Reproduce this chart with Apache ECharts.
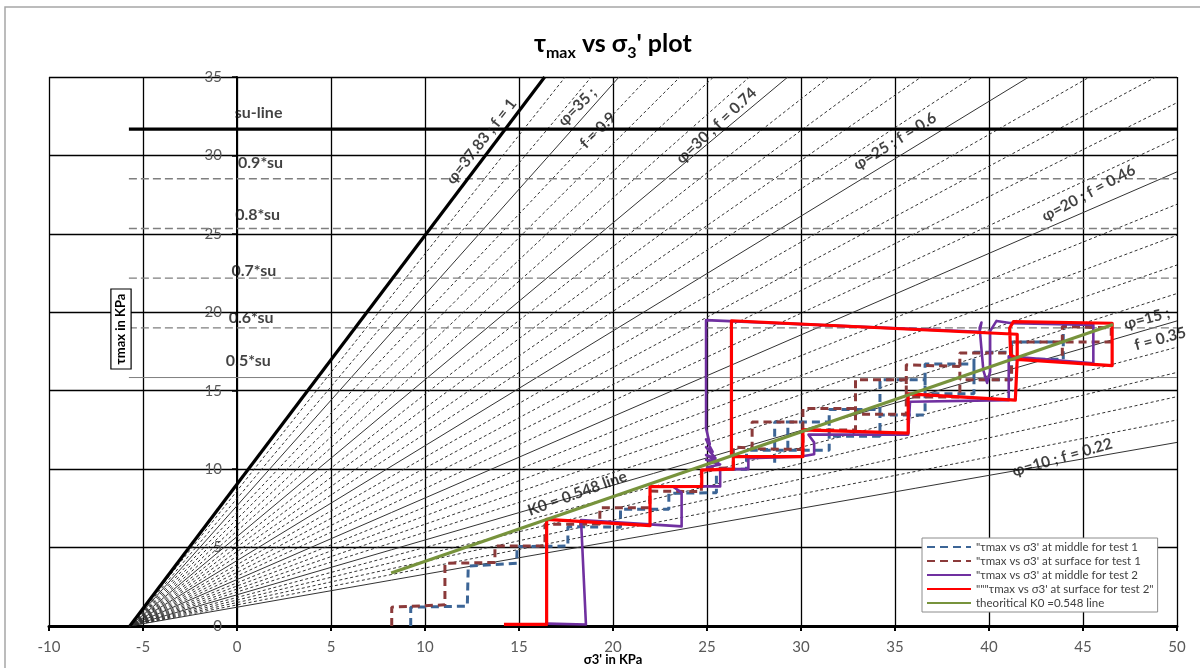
<!DOCTYPE html>
<html>
<head>
<meta charset="utf-8">
<script src="https://cdn.jsdelivr.net/npm/echarts@6/dist/echarts.min.js"></script>
<style>
  html, body { margin: 0; padding: 0; background: #fff; }
  #chart { width: 1200px; height: 668px; }
</style>
</head>
<body>
<div id="chart"></div>
<script>
// ---- axis ticks ----
const xTicks = { min: -10, max: 50, step: 5 };
const yTicks = { min: 0, max: 35, step: 5 };

// ---- undrained strength reference lines ----
const su = 31.68;
const suStart = -5.75;
const suFactors = [0.9, 0.8, 0.7, 0.6, 0.5];
const suLabels = [
  { text: 'su-line', x: 1.15, y: 32.7 },
  { text: '0.9*su', x: 1.25, y: 29.5 },
  { text: '0.8*su', x: 1.1, y: 26.2 },
  { text: '0.7*su', x: 0.9, y: 22.65 },
  { text: '0.6*su', x: 0.75, y: 19.65 },
  { text: '0.5*su', x: 0.6, y: 16.9 }
];

// ---- failure-envelope fan: all lines pass through (fanOrigin, 0) ----
const fanOrigin = -5.7;
const phiMax = 37.83;
const phiFan = [10, 11, 12, 13, 14, 15, 16, 17, 18, 19, 20, 21, 22, 23, 24, 25,
                26, 27, 28, 29, 30, 31, 32, 33, 34, 35, 36, 37];
const phiLabels = [
  { text: 'φ=37.83 ; f = 1', x: 13.0, y: 30.9, rot: 52 },
  { text: 'φ=35 ;', x: 18.1, y: 33.1, rot: 45 },
  { text: 'f = 0.9', x: 19.2, y: 31.6, rot: 45 },
  { text: 'φ=30 ; f = 0.74', x: 25.5, y: 31.9, rot: 43 },
  { text: 'φ=25 ; f = 0.6', x: 35.0, y: 30.9, rot: 32 },
  { text: 'φ=20 ; f = 0.46', x: 45.3, y: 27.6, rot: 28 },
  { text: 'φ=15 ;', x: 48.4, y: 19.6, rot: 15 },
  { text: 'f = 0.35', x: 49.1, y: 18.3, rot: 15 },
  { text: 'φ=10 ; f = 0.22', x: 43.9, y: 10.75, rot: 16 },
  { text: 'K0 = 0.548 line', x: 18.1, y: 8.45, rot: 20 }
];

// ---- measured paths (σ3', τmax) in kPa; null separates drawn pieces ----
const middleTest1 = [
  [9.24, 0], [9.24, 1.2], [12.25, 1.27], [12.3, 3.82], [14.88, 4.0], [14.9, 5.06],
  [17.6, 5.1], [17.6, 6.33], [20.4, 6.3], [20.4, 7.45], [22.97, 7.45], [22.97, 8.46],
  [25.5, 8.5], [25.5, 10.0], [27.1, 10.0], [27.1, 11.26], [28.6, 11.26], null,
  [28.6, 10.4], [28.6, 13.0], [31.5, 13.0], [31.5, 11.2], [27.3, 11.2], null,
  [29.3, 11.3], [29.3, 13.0], null,
  [31.5, 12.1], [31.5, 13.8], [34.2, 13.8], [34.2, 12.1], [31.5, 12.1], null,
  [34.2, 13.45], [34.2, 15.7], [36.6, 15.7], [36.6, 13.45], [34.2, 13.45], null,
  [36.6, 14.8], [36.6, 16.7], [39.2, 16.7], [39.2, 14.8], [36.6, 14.8], null,
  [39.2, 15.7], [39.2, 17.45], [41.2, 17.45], [41.2, 15.7], [39.2, 15.7], null,
  [41.2, 17.0], [41.2, 18.1], [43.95, 18.1], [43.95, 17.0], [41.2, 17.0], null,
  [43.95, 18.1], [43.95, 19.1]
];
const surfaceTest1 = [
  [8.23, 0], [8.23, 1.2], [11.06, 1.35], [11.06, 4.0], [13.72, 4.05], [13.72, 5.1],
  [16.38, 5.1], [16.38, 6.48], [19.3, 6.5], [19.3, 7.54], [21.96, 7.54], [21.96, 8.6],
  [24.7, 8.57], [24.7, 10.0], [26.4, 10.1], [26.4, 11.4], [27.4, 11.35], [27.4, 13.0],
  [30.1, 13.0], [30.1, 11.25], [27.4, 11.3], null,
  [30.1, 12.5], [30.1, 13.87], [32.9, 13.87], [32.9, 12.5], [30.1, 12.5], null,
  [32.9, 13.5], [32.9, 15.7], [35.6, 15.7], [35.6, 13.5], [32.9, 13.5], null,
  [35.6, 14.6], [35.6, 16.65], [38.45, 16.55], [38.45, 14.6], [35.6, 14.6], null,
  [38.45, 15.7], [38.45, 17.4], [41.2, 17.4], [41.2, 15.7], [38.45, 15.7], null,
  [41.2, 17.4], [41.2, 18.1], [46.5, 18.1], [46.5, 19.0], [43.9, 19.1], [43.9, 17.0]
];
const middleTest2 = [
  [16.5, 0.15], [18.56, 0.1], [18.3, 6.75], [23.65, 6.35], [23.65, 8.5], [23.2, 8.88],
  [24.8, 8.9], [25.7, 8.9], [25.7, 10.0], [27.2, 10.0], [27.2, 10.7], [30.0, 10.8],
  [30.7, 10.95], [30.7, 11.7], [30.4, 12.2], [35.7, 12.2], [35.8, 14.3], [41.05, 14.4],
  [41.05, 17.2], [45.55, 16.75], [45.55, 19.2], [41.2, 19.3], [40.4, 19.45], [40.06, 18.8],
  [40.06, 16.2], [39.9, 15.5], [39.7, 16.3], [39.5, 19.0], [39.6, 19.35], [39.5, 18.75],
  [24.95, 19.5], [24.95, 12.6], [25.15, 11.6], [24.95, 11.9], [25.3, 11.1], [24.95, 11.4],
  [25.45, 10.7], [24.95, 10.9], [25.6, 10.45], [24.95, 10.6], [25.7, 10.3], [24.95, 10.1]
];
const surfaceTest2 = [
  [14.2, 0.1], [16.47, 0.1], [16.47, 6.8], [21.97, 6.4], [21.97, 8.88], [24.72, 8.9],
  [24.72, 9.94], [26.4, 10.0], [26.4, 10.8], [30.1, 10.8], [30.1, 12.5], [35.7, 12.3],
  [35.7, 14.8], [41.4, 14.4], [41.5, 17.0], [46.55, 16.6], [46.55, 19.3], [41.3, 19.4],
  [41.1, 19.0], [41.15, 17.3], [41.5, 17.0], [41.5, 18.6], [26.3, 19.46], [26.3, 10.8]
];
const k0Line = [[8.2, 3.38], [46.6, 19.22]];

const seriesNames = [
  '"τmax vs σ3\' at middle for test 1',
  '"τmax vs σ3\' at surface for test 1',
  '"τmax vs σ3\' at middle for test 2',
  '"""τmax vs σ3\' at surface for test 2"',
  'theoritical K0 =0.548 line'
];

const FONT = 'Lato, "Open Sans", "DejaVu Sans", sans-serif';
const GRID = { left: 49, right: 23, top: 77, bottom: 42 };
const CHART_W = 1200;
// horizontal pixel distance from the left plot edge to σ3' = 0
const yAxisShift = (0 - xTicks.min) / (xTicks.max - xTicks.min) * (CHART_W - GRID.left - GRID.right);

function envelopeSlope(phiDeg) {
  const s = Math.sin(phiDeg * Math.PI / 180);
  return s / (1 - s);
}
// line from the fan origin up to the plot boundary
function fanLine(phiDeg) {
  const k = envelopeSlope(phiDeg);
  let xEnd = fanOrigin + yTicks.max / k;
  if (xEnd > xTicks.max) xEnd = xTicks.max;
  return [[fanOrigin, 0], [xEnd, k * (xEnd - fanOrigin)]];
}
const pts = function (arr) { return arr.map(function (p) { return p === null ? [null, null] : p; }); };

const series = [];

// fan of friction-angle lines
phiFan.forEach(function (phi) {
  const major = phi % 5 === 0;
  series.push({
    type: 'line', silent: true, symbol: 'none', z: 2,
    data: fanLine(phi),
    lineStyle: major
      ? { color: '#333', width: 1, type: 'solid' }
      : { color: '#333', width: 1, type: [3, 2.5] }
  });
});
series.push({
  type: 'line', silent: true, symbol: 'none', z: 3,
  data: fanLine(phiMax),
  lineStyle: { color: '#000', width: 3.2 }
});

// su reference lines
series.push({
  type: 'line', silent: true, symbol: 'none', z: 3,
  data: [[suStart, su], [xTicks.max, su]],
  lineStyle: { color: '#000', width: 3.2 }
});
suFactors.forEach(function (f) {
  series.push({
    type: 'line', silent: true, symbol: 'none', z: 2,
    data: [[suStart, f * su], [xTicks.max, f * su]],
    lineStyle: f === 0.5
      ? { color: '#7f7f7f', width: 1, type: 'solid' }
      : { color: '#7f7f7f', width: 1.4, type: [8, 4] }
  });
});

// measured paths
series.push({
  name: seriesNames[0], type: 'line', symbol: 'none', z: 6, data: pts(middleTest1),
  connectNulls: false,
  lineStyle: { color: '#3C6596', width: 3, type: [8, 5] }, itemStyle: { color: '#3C6596' }
});
series.push({
  name: seriesNames[1], type: 'line', symbol: 'none', z: 6, data: pts(surfaceTest1),
  connectNulls: false,
  lineStyle: { color: '#8B3A3A', width: 3, type: [8, 5] }, itemStyle: { color: '#8B3A3A' }
});
series.push({
  name: seriesNames[2], type: 'line', symbol: 'none', z: 7, data: middleTest2,
  lineStyle: { color: '#7030A0', width: 2.6, join: 'round' }, itemStyle: { color: '#7030A0' }
});
series.push({
  name: seriesNames[3], type: 'line', symbol: 'none', z: 8, data: surfaceTest2,
  lineStyle: { color: '#FF0000', width: 3.2, join: 'round' }, itemStyle: { color: '#FF0000' }
});
series.push({
  name: seriesNames[4], type: 'line', symbol: 'none', z: 9, data: k0Line,
  lineStyle: { color: '#77933C', width: 3.2 }, itemStyle: { color: '#77933C' }
});

// text annotations placed in data coordinates
function labelSeries(items, z, size) {
  return {
    type: 'scatter', silent: true, symbolSize: 0, z: z,
    data: items.map(function (it) {
      return {
        value: [it.x, it.y],
        label: {
          show: true, position: 'inside', formatter: it.text,
          rotate: it.rot || 0,
          fontFamily: FONT, fontWeight: 'bold', fontSize: size, color: '#111'
        }
      };
    })
  };
}
series.push(labelSeries(suLabels, 10, 16));
series.push(labelSeries(phiLabels, 10, 15.5));

const option = {
  animation: false,
  backgroundColor: '#fff',
  textStyle: { fontFamily: FONT },
  title: {
    text: '{t|τ}{s|max}{t| vs σ}{s|3}{t|\' plot}',
    left: 529, top: 22,
    textStyle: {
      rich: {
        t: { fontFamily: FONT, fontSize: 25, fontWeight: 'bold', color: '#000', lineHeight: 34, verticalAlign: 'middle' },
        s: { fontFamily: FONT, fontSize: 16, fontWeight: 'bold', color: '#000', lineHeight: 34, verticalAlign: 'bottom' }
      }
    }
  },
  grid: {
    left: GRID.left, right: GRID.right, top: GRID.top, bottom: GRID.bottom,
    containLabel: false, outerBoundsMode: 'none'
  },
  xAxis: {
    type: 'value', min: xTicks.min, max: xTicks.max, interval: xTicks.step,
    name: 'σ3\' in KPa', nameLocation: 'middle', nameGap: 27, nameMoveOverlap: false,
    nameTextStyle: { fontFamily: FONT, fontWeight: 'bold', fontSize: 13, color: '#000' },
    axisLine: { lineStyle: { color: '#000', width: 3 } },
    axisTick: { show: true, length: 5, lineStyle: { color: '#000', width: 2 } },
    axisLabel: { color: '#595959', fontSize: 15, margin: 14, fontFamily: FONT },
    splitLine: { show: true, lineStyle: { color: '#000', width: 1.3 } }
  },
  yAxis: {
    type: 'value', min: yTicks.min, max: yTicks.max, interval: yTicks.step,
    offset: -yAxisShift,
    axisLine: { show: true, onZero: false, lineStyle: { color: '#000', width: 2 } },
    axisTick: { show: true, length: 5, lineStyle: { color: '#000', width: 1.5 } },
    axisLabel: { color: '#595959', fontSize: 15, margin: 15, fontFamily: FONT },
    splitLine: { show: true, lineStyle: { color: '#000', width: 1.3 } }
  },
  legend: {
    data: seriesNames,
    orient: 'vertical', left: 922, top: 538,
    itemWidth: 44, itemHeight: 13, itemGap: 2,
    itemStyle: { color: 'rgba(0,0,0,0)', borderWidth: 0, opacity: 0 },
    backgroundColor: '#fff', borderColor: '#8c8c8c', borderWidth: 1,
    padding: [3, 4, 3, 4],
    textStyle: { fontFamily: FONT, fontSize: 11.5, color: '#404040' }
  },
  graphic: [
    {
      type: 'rect', silent: true, z: -1,
      shape: { x: 5, y: 7, width: 1205, height: 670 },
      style: { fill: 'none', stroke: '#a6a6a6', lineWidth: 1.5 }
    },
    {
      type: 'text', silent: true, z: 20,
      x: 121, y: 329, rotation: Math.PI / 2,
      style: {
        text: 'τmax in KPa', fontFamily: FONT, fontWeight: 'bold', fontSize: 13,
        fill: '#000', align: 'center', verticalAlign: 'middle',
        backgroundColor: '#fff', borderColor: '#000', borderWidth: 1.2,
        padding: [3, 4, 3, 4]
      }
    }
  ],
  series: series
};

const chart = echarts.init(document.getElementById('chart'), null, { renderer: 'canvas' });
chart.setOption(option);
</script>
</body>
</html>
